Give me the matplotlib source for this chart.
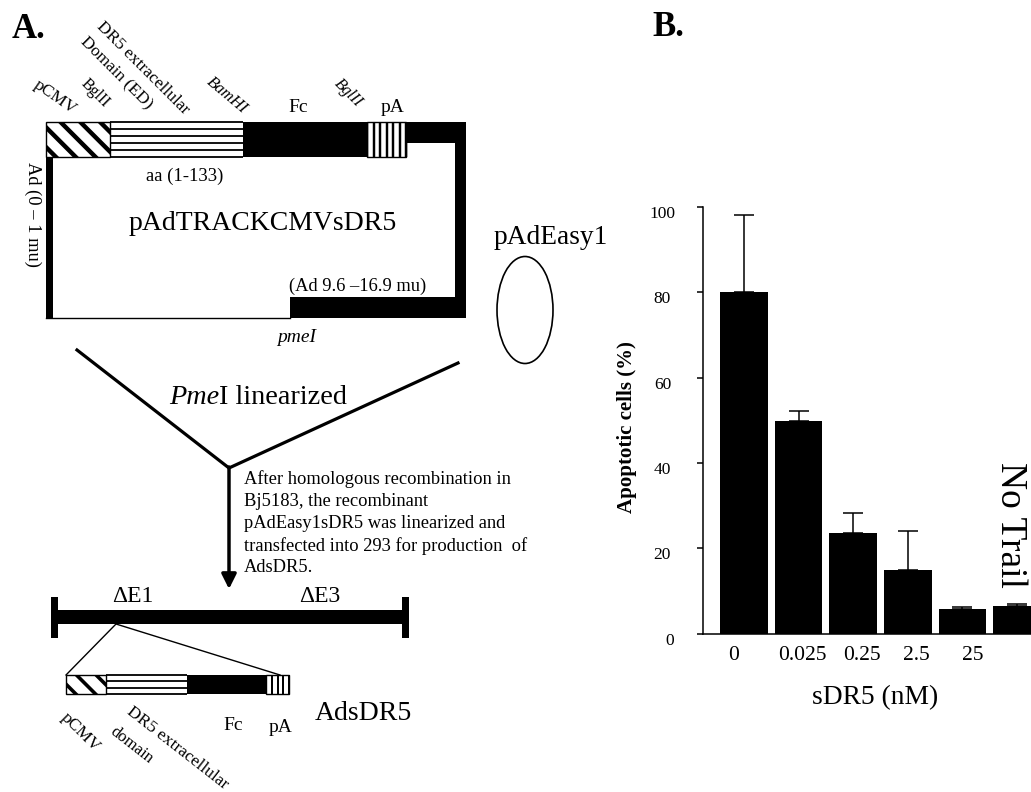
import matplotlib
matplotlib.use('Agg')
import matplotlib.pyplot as plt
from matplotlib.patches import Rectangle, Ellipse
from matplotlib.transforms import ScaledTranslation

# panel B values
doses = ['0', '0.025', '0.25', '2.5', '25', '']
apoptotic = [80, 49.8, 23.7, 15, 5.7, 6.6]
err_top = [98.1, 52.3, 28.3, 24, 6.2, 7.0]
y_ticks = [0, 20, 40, 60, 80, 100]

plt.rcParams['font.family'] = ['Liberation Serif', 'DejaVu Serif']
W, H = 1031, 792
fig = plt.figure(figsize=(W / 100, H / 100), dpi=100)

# pixel canvas for the schematic
bg = fig.add_axes([0, 0, 1, 1])
bg.set_xlim(0, W)
bg.set_ylim(H, 0)
bg.axis('off')


def t(x, y, s, size=12.5, rot=0, **kw):
    kw.setdefault('ha', 'center')
    bg.text(x, y, s, fontsize=size, rotation=rot, va='center',
            rotation_mode='anchor', **kw)


def black(x0, y0, x1, y1):
    bg.add_patch(Rectangle((x0, y0), x1 - x0, y1 - y0, fc='k', ec='none'))


def cassette(x0, x1, x2, x3, x4, y0, y1, n_diag, n_h, n_v, lw):
    # pCMV box with diagonal stripes
    box = Rectangle((x0, y0), x1 - x0, y1 - y0, fc='w', ec='k', lw=1)
    bg.add_patch(box)
    step = (x1 - x0 + (y1 - y0)) / n_diag
    for i in range(n_diag):
        xs = x0 - (y1 - y0) + step * (i + 0.5)
        ln, = bg.plot([xs, xs + (y1 - y0)], [y0, y1], color='k', lw=lw)
        ln.set_clip_path(box)
    # extracellular domain, horizontal stripes
    for i in range(n_h + 1):
        y = y0 + (y1 - y0) * i / n_h
        bg.plot([x1, x2], [y, y], color='k', lw=1.3, solid_capstyle='butt')
    # Fc
    black(x2, y0, x3, y1)
    # pA, vertical stripes
    bg.add_patch(Rectangle((x3, y0), x4 - x3, y1 - y0, fc='w', ec='k', lw=1))
    for i in range(n_v + 1):
        x = x3 + (x4 - x3) * i / n_v
        bg.plot([x, x], [y0, y1], color='k', lw=lw * 0.55, solid_capstyle='butt')


# top plasmid frame
black(406, 122, 466, 143)
black(455, 122, 466, 318)
black(290, 297, 466, 318)
black(46, 157, 53, 318)
bg.plot([46, 290], [317.5, 317.5], color='k', lw=1)
cassette(46, 110, 243, 367, 406, 122, 157, 5, 5, 6, 3.2)

t(28, 29, 'A.', 25, fontweight='bold')
t(668, 28, 'B.', 25, fontweight='bold')
t(55, 97, 'pCMV', 12.5, -35)
t(95, 93, 'BglII', 11.5, -45)
t(116, 73, 'Domain (ED)', 12.5, -45)
t(143, 68, 'DR5 extracellular', 12.5, -45)
t(227, 95, 'BamHI', 12, -40, fontstyle='italic')
t(298, 108, 'Fc', 14)
t(348, 93, 'BglII', 11.5, -45, fontstyle='italic')
t(393, 108, 'pA', 14)
t(185, 176, 'aa (1-133)', 13.4)
t(263, 223, 'pAdTRACKCMVsDR5', 20)
t(33, 215, 'Ad (0 \u2013 1 mu)', 13.3, -90)
t(358, 286, '(Ad 9.6 \u201316.9 mu)', 13.3)
t(297, 338, 'pmeI', 14, fontstyle='italic')
t(551, 237, 'pAdEasy1', 19.7)
bg.add_patch(Ellipse((525, 310), 56, 107, fc='none', ec='k', lw=1.2))

# Y junction and arrow
bg.plot([77, 229, 458], [350, 468, 363], color='k', lw=2.3)
bg.annotate('', xy=(229, 589), xytext=(229, 467),
            arrowprops=dict(arrowstyle='-|>', color='k', lw=2.5, mutation_scale=22,
                            shrinkA=0, shrinkB=0))
t(169, 398, 'Pme', 20.3, ha='left', fontstyle='italic')
t(219, 398, 'I linearized', 20.3, ha='left')

para = ['After homologous recombination in', 'Bj5183, the recombinant',
        'pAdEasy1sDR5 was linearized and',
        'transfected into 293 for production  of', 'AdsDR5.']
for i, line in enumerate(para):
    t(244, 479 + i * 22.2, line, 13.3, ha='left')

# lower vector
black(58, 610, 402, 624)
black(51, 597, 58, 638)
black(402, 597, 409, 638)
t(133, 597, '\u0394E1', 17)
t(320, 597, '\u0394E3', 17)
bg.plot([66, 116, 280], [675, 624, 675], color='k', lw=1)
cassette(66, 106, 187, 266, 289, 675, 694, 3, 3, 4, 2.6)
t(80, 732, 'pCMV', 12.5, -45)
t(177, 748, 'DR5 extracellular', 12.5, -38)
t(132, 745, 'domain', 12, -38)
t(233, 725, 'Fc', 14)
t(281, 727, 'pA', 14)
t(363, 713, 'AdsDR5', 20)

# panel B bar chart
ax_l, ax_r, ax_b, ax_t = 703, W, 633.7, 207
ax = fig.add_axes([ax_l / W, 1 - ax_b / H, (ax_r - ax_l) / W, (ax_b - ax_t) / H])
ax.patch.set_alpha(0)
pos = list(range(len(apoptotic)))
err_up = [e - v for e, v in zip(err_top, apoptotic)]
ax.bar(pos, apoptotic, width=0.87, color='k',
       yerr=[[0] * len(pos), err_up],
       error_kw=dict(ecolor='k', elinewidth=1.1, capsize=7.5, capthick=1.1))
ax.set_xlim(-0.751, 5.256)
ax.set_ylim(0, 100)
for s in ['top', 'right']:
    ax.spines[s].set_visible(False)
ax.spines['left'].set_linewidth(1.1)
ax.spines['bottom'].set_linewidth(1.1)
ax.set_yticks(y_ticks)
ax.tick_params(axis='y', direction='out', length=4, width=1.1, pad=19, labelsize=12.5)
ax.set_xticks(pos)
ax.set_xticklabels(doses, fontsize=15.5)
ax.tick_params(axis='x', length=0, pad=9)
# labels sit off their ticks in the original
for lab, dx in zip(ax.get_xticklabels(), [-10, 3.5, 8.5, 8.5, 10.5, 0]):
    lab.set_transform(lab.get_transform() + ScaledTranslation(dx / 100, 0, fig.dpi_scale_trans))
for lab, dx in zip(ax.get_yticklabels(), [3, 0, 0, 0, 0, 4]):
    lab.set_transform(lab.get_transform() + ScaledTranslation(dx / 100, -5 / 100, fig.dpi_scale_trans))
ax.set_ylabel('Apoptotic cells (%)', fontsize=15, fontweight='bold', va='center')
ax.yaxis.set_label_coords((627 - ax_l) / (ax_r - ax_l), (ax_b - 427) / (ax_b - ax_t))
ax.set_xlabel('sDR5 (nM)', fontsize=19.8, va='center')
ax.xaxis.set_label_coords((875 - ax_l) / (ax_r - ax_l), -(698 - ax_b) / (ax_b - ax_t))

t(1010, 525, 'No Trail', 27, -90)

fig.savefig('out.png', dpi=100)
